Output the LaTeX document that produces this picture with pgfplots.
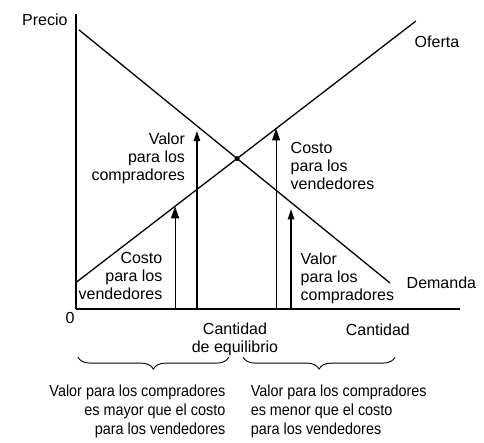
\documentclass[border=0pt]{standalone}
\usepackage{fontspec}
\setmainfont{Liberation Sans}
\newfontfamily\narrowfont{Liberation Sans}[FakeStretch=0.9]
\usepackage{pgfplots}
\pgfplotsset{compat=1.18}
\usetikzlibrary{arrows.meta,decorations.pathreplacing}
\tikzset{
	lbl/.style={font=\fontsize{16}{18}\selectfont},
	btm/.style={font=\narrowfont\fontsize{16}{19}\selectfont},
}

\begin{document}
\begin{tikzpicture}
\begin{axis}[
	x=3.84pt, y=2.95pt,
	xmin=0, xmax=100, ymin=0, ymax=100,
	axis lines=left,
	axis line style={-, line width=1.3pt},
	ticks=none,
	clip=false,
]
% bounding box of the whole figure
\path (axis cs:-19.79,104.75) rectangle (axis cs:106.25,-45.08);

% demand and supply
\addplot[black, line width=1.3pt] coordinates {(0.8,94.6) (81.8,8.8)};
\addplot[black, line width=1.3pt] coordinates {(0,9) (88.5,97.6)};
% equilibrium
\addplot[only marks, mark=*, mark size=2.2pt, black] coordinates {(41.96,51.0)};

% arrows
\addplot[black, line width=1.1pt, -{Triangle[length=12pt,width=8pt]}] coordinates {(25.8,0) (25.8,34.8)};
\addplot[black, line width=1.1pt, -{Triangle[length=10pt,width=6.5pt]}] coordinates {(31.5,0) (31.5,60.3)};
\addplot[black, line width=1.1pt, -{Triangle[length=12pt,width=8pt]}] coordinates {(52.1,0) (52.1,61.2)};
\addplot[black, line width=1.1pt, -{Triangle[length=10pt,width=6.5pt]}] coordinates {(56.0,0) (56.0,33.8)};

% labels
\node[lbl, anchor=east] at (axis cs:-1.3,98.0) {Precio};
\node[lbl] at (axis cs:94.0,90.5) {Oferta};
\node[lbl, anchor=west] at (axis cs:85.2,8.8) {Demanda};
\node[lbl] at (axis cs:-1.56,-3.05) {0};
\node[lbl] at (axis cs:78.6,-7.1) {Cantidad};
\node[lbl, align=center] at (axis cs:41.4,-10.2) {Cantidad\\de equilibrio};

\node[lbl, anchor=east, align=right] at (axis cs:29.3,51.0) {Valor\\para los\\compradores};
\node[lbl, anchor=west, align=left] at (axis cs:55.0,48.5) {Costo\\para los\\vendedores};
\node[lbl, anchor=east, align=right] at (axis cs:23.4,11.2) {Costo\\para los\\vendedores};
\node[lbl, anchor=west, align=left] at (axis cs:57.6,10.5) {Valor\\para los\\compradores};

% braces
\draw[line width=0.9pt, decorate, decoration={brace, mirror, amplitude=12pt}]
	(axis cs:0.5,-16.3) -- (axis cs:39.8,-16.3);
\draw[line width=0.9pt, decorate, decoration={brace, mirror, amplitude=12pt}]
	(axis cs:43.5,-16.3) -- (axis cs:83.1,-16.3);

\node[btm, anchor=east, align=right]
	at (axis cs:39.8,-34.6) {Valor para los compradores\\es mayor que el costo\\para los vendedores};
\node[btm, anchor=west, align=left]
	at (axis cs:44.6,-34.6) {Valor para los compradores\\es menor que el costo\\para los vendedores};
\end{axis}
\end{tikzpicture}
\end{document}
